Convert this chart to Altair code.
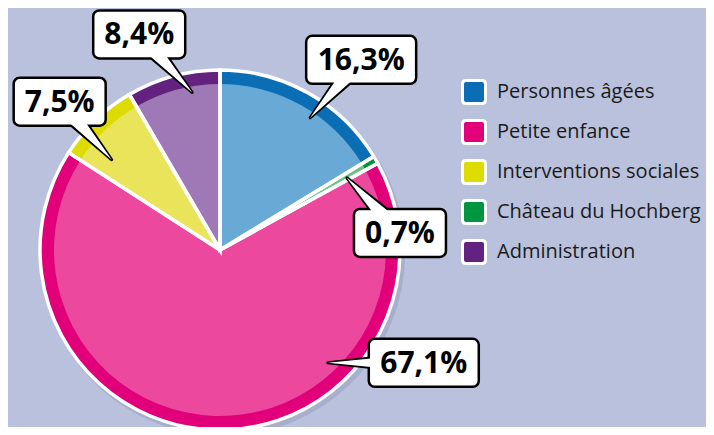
import altair as alt
import pandas as pd
import numpy as np

# ---- data ----
categories = ["Personnes âgées", "Château du Hochberg", "Petite enfance",
              "Interventions sociales", "Administration"]
values = [16.3, 0.7, 67.1, 7.5, 8.4]
legend_order = ["Personnes âgées", "Petite enfance", "Interventions sociales",
                "Château du Hochberg", "Administration"]

# ---- styles ----
rim_colors = {"Personnes âgées": "#0b6db3", "Petite enfance": "#e2007a",
              "Interventions sociales": "#dedb00", "Château du Hochberg": "#009640",
              "Administration": "#63227f"}
light_colors = {"Personnes âgées": "#68a9d5", "Petite enfance": "#eb489e",
                "Interventions sociales": "#e9e45a", "Château du Hochberg": "#6ec08a",
                "Administration": "#9f79b5"}
BG = "#b9c1dc"
CX, CY = 212, 242
R_OUT, R_IN = 180, 166
FONT = "Open Sans"

# label layout: tip angle (deg clockwise from top), tip radius, box offset from tip
label_layout = {
    "Personnes âgées": (34.3, 160, 51, -58),
    "Château du Hochberg": (60.4, 146, 53, 55),
    "Petite enfance": (136.3, 156, 96, 0),
    "Interventions sociales": (309.8, 141, -52, -58),
    "Administration": (350.0, 160, -53, -58),
}

df = pd.DataFrame({"category": categories, "value": values, "idx": range(len(categories))})

lab_rows, trail_rows = [], []
for c, v in zip(categories, values):
    ang, r, dx, dy = label_layout[c]
    a = np.radians(ang)
    tx, ty = CX + r * np.sin(a), CY - r * np.cos(a)
    bx, by = tx + dx, ty + dy
    txt = f"{v:.1f}".replace(".", ",") + "%"
    w = 18 * len(txt) + 20
    lab_rows.append({"category": c, "text": txt, "bx": bx, "by": by,
                     "x1": bx - w / 2, "x2": bx + w / 2, "y1": by - 24, "y2": by + 24})
    trail_rows.append({"category": c, "step": 0, "x": bx, "y": by, "sb": 24, "sw": 19})
    trail_rows.append({"category": c, "step": 1, "x": tx, "y": ty, "sb": 3, "sw": 0.1})
labels = pd.DataFrame(lab_rows)
trails = pd.DataFrame(trail_rows)

rounded = "M-0.7,-1H0.7Q1,-1 1,-0.7V0.7Q1,1 0.7,1H-0.7Q-1,1 -1,0.7V-0.7Q-1,-1 -0.7,-1Z"

base = alt.Chart(df).encode(
    theta=alt.Theta("value:Q", stack=True),
    order=alt.Order("idx:Q"),
    x=alt.value(CX), y=alt.value(CY),
)

pie_shadow = alt.Chart(df).mark_arc(outerRadius=R_OUT + 2, color="#2a3060", opacity=0.12).encode(
    theta=alt.Theta("value:Q", stack=True),
    order=alt.Order("idx:Q"),
    x=alt.value(CX + 3), y=alt.value(CY + 4),
)

rim = base.mark_arc(outerRadius=R_OUT).encode(
    color=alt.Color("category:N",
                    scale=alt.Scale(domain=legend_order, range=[rim_colors[c] for c in legend_order]),
                    legend=alt.Legend(orient="none", legendX=453, legendY=71, title=None,
                                      symbolType=rounded, symbolSize=529,
                                      symbolStrokeColor="white", symbolStrokeWidth=3,
                                      symbolOpacity=1, labelFont=FONT, labelFontSize=20,
                                      labelColor="#1a1a1a", rowPadding=4, labelOffset=10,
                                      labelLimit=300))
)
inner = base.mark_arc(outerRadius=R_IN).encode(
    color=alt.Color("category:N",
                    scale=alt.Scale(domain=legend_order, range=[light_colors[c] for c in legend_order]),
                    legend=None)
)
outline = base.mark_arc(outerRadius=R_OUT, fillOpacity=0, stroke="white", strokeWidth=3.5)

lc = alt.Chart(labels)
tc = alt.Chart(trails)

shadow = lc.mark_rect(cornerRadius=6, fill="#000000", opacity=0.18).encode(
    x=alt.X("x1:Q", scale=None), x2="x2:Q",
    y=alt.Y("y1:Q", scale=None), y2="y2:Q",
    xOffset=alt.value(2), yOffset=alt.value(3),
)
trail_black = tc.mark_trail(color="black").encode(
    x=alt.X("x:Q", scale=None), y=alt.Y("y:Q", scale=None),
    size=alt.Size("sb:Q", scale=None), detail="category:N", order="step:Q",
)
box = lc.mark_rect(cornerRadius=6, fill="white", stroke="black", strokeWidth=2.5).encode(
    x=alt.X("x1:Q", scale=None), x2="x2:Q",
    y=alt.Y("y1:Q", scale=None), y2="y2:Q",
)
trail_white = tc.mark_trail(color="white").encode(
    x=alt.X("x:Q", scale=None), y=alt.Y("y:Q", scale=None),
    size=alt.Size("sw:Q", scale=None), detail="category:N", order="step:Q",
)
text = lc.mark_text(font=FONT, fontWeight="bold", fontSize=30, color="black",
                    align="center", baseline="middle", dy=1).encode(
    x=alt.X("bx:Q", scale=None), y=alt.Y("by:Q", scale=None), text="text:N",
)

chart = alt.layer(pie_shadow, rim, inner, outline, shadow, trail_black, box, trail_white, text).resolve_scale(
    color="independent"
).properties(
    width=698, height=419, background=BG, padding=0, autosize=alt.AutoSizeParams(type="none")
).configure_view(stroke=None)

chart.save("out.html", embed_options={"renderer": "svg", "actions": False})
